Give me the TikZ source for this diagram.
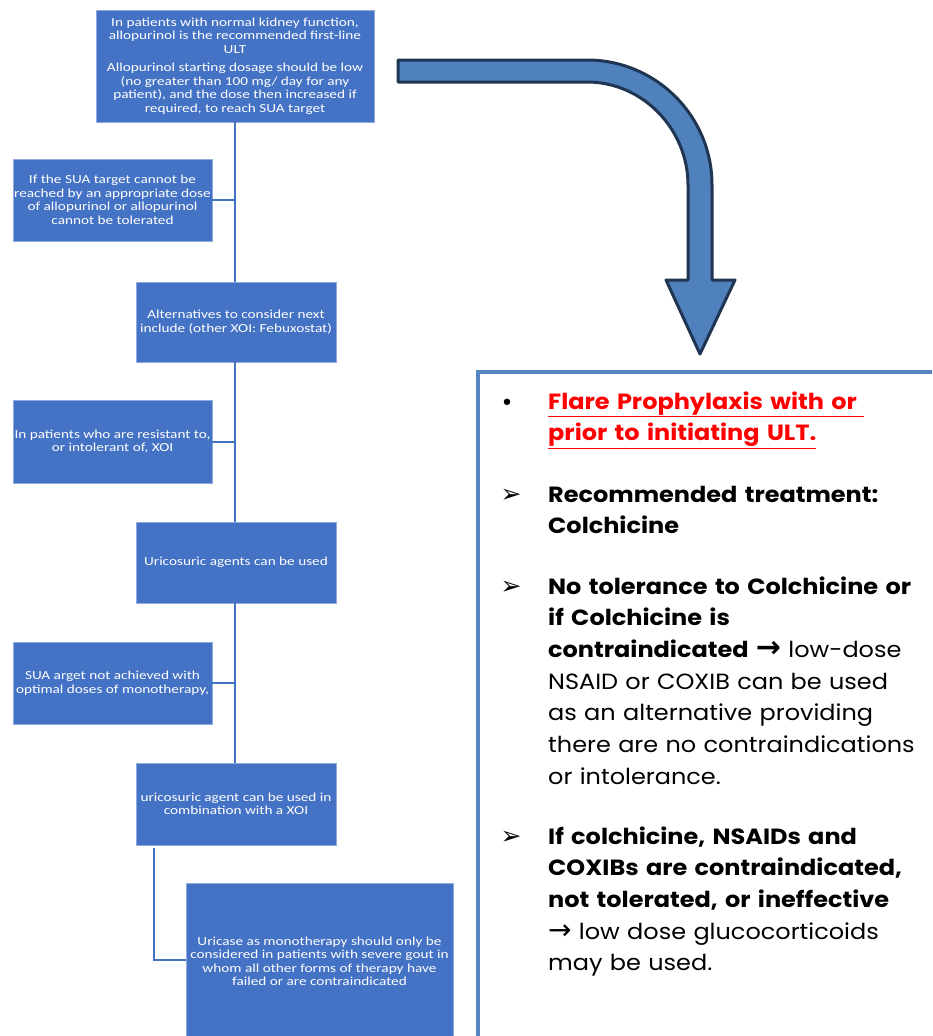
\documentclass[tikz,border=0pt]{standalone}
\usepackage{fontspec}
\newfontfamily\popfont[FakeStretch=1.09]{Poppins}
\newfontfamily\carfont[FakeStretch=1.24]{Carlito}
\newfontfamily\djfont{DejaVu Sans}
\definecolor{boxblue}{HTML}{4472C4}
\definecolor{boxedge}{HTML}{8FAADC}
\definecolor{linkblue}{HTML}{4472C4}
\definecolor{arrowfill}{HTML}{4F81BD}
\definecolor{arrowedge}{HTML}{1F3552}
\definecolor{framecol}{HTML}{5585C5}
\definecolor{redtxt}{HTML}{FF0000}
\newcommand{\boldarrow}{{\djfont\bfseries\fontsize{30}{30}\selectfont →}}
\newcommand{\thinarrow}{{\djfont\fontsize{28}{28}\selectfont →}}
\tikzset{
  flowbox/.style={rectangle, fill=boxblue, draw=boxedge, line width=0.8pt, text=white,
    font=\carfont\fontsize{12.3}{13.5}\selectfont, align=center, inner sep=0pt},
  link/.style={draw=linkblue, line width=2pt},
  itemtext/.style={anchor=base west, inner sep=0pt, align=left, text width=380pt,
    font=\popfont\fontsize{22}{31.7}\selectfont},
  bulletmark/.style={anchor=base, inner sep=0pt},
  arrowbullet/.style={bulletmark, font=\djfont\fontsize{25}{25}\selectfont},
}
\begin{document}
\begin{tikzpicture}[x=1pt,y=-1pt]
\useasboundingbox (0,0) rectangle (932,1036);

% flow boxes
\node[flowbox, minimum width=278pt, minimum height=112pt] (b1) at (235,66)
  {In patients with normal kidney function,\\allopurinol is the recommended first-line\\ULT\\[5pt]Allopurinol starting dosage should be low\\(no greater than 100 mg/ day for any\\patient), and the dose then increased if\\required, to reach SUA target};
\node[flowbox, minimum width=199pt, minimum height=82pt] (l1) at (112.5,200)
  {If the SUA target cannot be\\reached by an appropriate dose\\of allopurinol or allopurinol\\cannot be tolerated};
\node[flowbox, minimum width=200pt, minimum height=80pt] (b2) at (236,322)
  {Alternatives to consider next\\include (other XOI: Febuxostat)};
\node[flowbox, minimum width=199pt, minimum height=83pt] (l2) at (112.5,441.5)
  {In patients who are resistant to,\\or intolerant of, XOI};
\node[flowbox, minimum width=200pt, minimum height=81pt] (b3) at (236,562.5)
  {Uricosuric agents can be used};
\node[flowbox, minimum width=199pt, minimum height=82pt] (l3) at (112.5,683)
  {SUA arget not achieved with\\optimal doses of monotherapy,};
\node[flowbox, minimum width=200pt, minimum height=82pt] (b4) at (236,804)
  {uricosuric agent can be used in\\combination with a XOI};

\coordinate (j1) at (235,200);
\coordinate (j2) at (235,441.5);
\coordinate (j3) at (235,683);
\coordinate (k1) at (154,848);
\coordinate (k2) at (154,960);

\draw[link] (b1.south -| j1) -- (b2.north -| j1);
\draw[link] (b2.south -| j1) -- (b3.north -| j1);
\draw[link] (b3.south -| j1) -- (b4.north -| j1);
\draw[link] (l1.east) -- (j1);
\draw[link] (l2.east) -- (j2);
\draw[link] (l3.east) -- (j3);

\begin{scope}
\clip (0,0) rectangle (932,1036);
\node[flowbox, minimum width=267pt, minimum height=157pt] (b5) at (319.5,961.5)
  {Uricase as monotherapy should only be\\considered in patients with severe gout in\\whom all other forms of therapy have\\failed or are contraindicated};
\draw[draw=framecol, line width=3.5pt] (478,372) rectangle (960,1060);
\end{scope}
\draw[link] (k1) -- (k2) -- (k2 -| b5.west);

% bent arrow
\draw[fill=arrowfill, draw=arrowedge, line width=3pt, line join=round]
  (398,60) -- (587,60) .. controls (656,60) and (712,116) .. (712,185)
  -- (712,280) -- (735,280) -- (700,354) -- (666,280) -- (688,280)
  -- (688,185) .. controls (688,129.2) and (642.8,82) .. (587,82)
  -- (398,82) -- cycle;

% right panel text
\node[bulletmark, font=\djfont\fontsize{22}{22}\selectfont] (m1) at (507,410) {•};
\node[itemtext, text=redtxt] (t1) at (548,409)
  {\bfseries\underline{Flare Prophylaxis with or\ }\\\underline{prior to initiating ULT.}};
\node[arrowbullet] (m2) at (511,502) {➢};
\node[itemtext] (t2) at (548,502)
  {\bfseries Recommended treatment:\\Colchicine};
\node[arrowbullet] (m3) at (511,594) {➢};
\node[itemtext] (t3) at (548,594)
  {\textbf{No tolerance to Colchicine or}\\\textbf{if Colchicine is}\\\textbf{contraindicated \boldarrow} low-dose\\NSAID or COXIB can be used\\as an alternative providing\\there are no contraindications\\or intolerance.};
\node[arrowbullet] (m4) at (511,844) {➢};
\node[itemtext] (t4) at (548,844)
  {\textbf{If colchicine, NSAIDs and}\\\textbf{COXIBs are contraindicated,}\\\textbf{not tolerated, or ineffective}\\\thinarrow{} low dose glucocorticoids\\may be used.};
\end{tikzpicture}
\end{document}
